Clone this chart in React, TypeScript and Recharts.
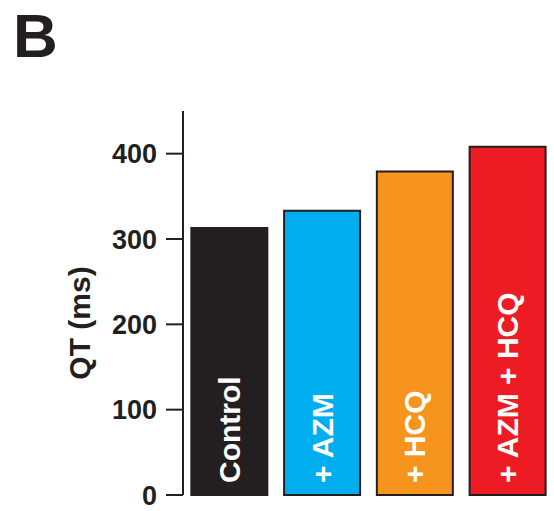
import React from 'react';
import { BarChart, Bar, XAxis, YAxis, Cell, LabelList, Label } from 'recharts';

// QT interval per treatment group
const groups = ['Control', '+ AZM', '+ HCQ', '+ AZM + HCQ'];
const qtValues = [313, 333, 379, 408];
const barColors = ['#231f20', '#00aeef', '#f7941d', '#ed1c24'];
const yTicks = [0, 100, 200, 300, 400];

const data = groups.map((name, i) => ({ name, qt: qtValues[i] }));

const INK = '#231f20';
const FONT = '"Liberation Sans", Arial, Helvetica, sans-serif';

// Group name written upward from the bottom of each bar
const BarName = (props: any) => {
  const { x, y, width, height, value } = props;
  const cx = x + width / 2;
  const by = y + height - 12;
  return (
    <text
      x={cx}
      y={by}
      transform={`rotate(-90, ${cx}, ${by})`}
      textAnchor="start"
      dominantBaseline="central"
      fill="#ffffff"
      fontFamily={FONT}
      fontWeight="bold"
      fontSize={30}
    >
      {value}
    </text>
  );
};

const AxisTitle = (props: any) => {
  const { viewBox } = props;
  const cx = viewBox.x + 79;
  const cy = 323;
  return (
    <text
      x={cx}
      y={cy}
      transform={`rotate(-90, ${cx}, ${cy})`}
      textAnchor="middle"
      dominantBaseline="central"
      fill={INK}
      fontFamily={FONT}
      fontWeight="bold"
      fontSize={30}
    >
      QT (ms)
    </text>
  );
};

export default function App() {
  return (
    <div style={{ position: 'absolute', left: 0, top: 0, width: 554, height: 511, background: '#fff' }}>
      <div
        style={{
          position: 'absolute',
          left: 13,
          top: 1,
          fontFamily: FONT,
          fontWeight: 'bold',
          fontSize: 62,
          color: INK,
          lineHeight: '70px',
        }}
      >
        B
      </div>
      <BarChart
        width={554}
        height={511}
        data={data}
        margin={{ top: 111, right: 0, left: 0, bottom: 16 }}
        barCategoryGap="9%"
      >
        <XAxis
          dataKey="name"
          height={0}
          tick={false}
          tickLine={false}
          axisLine={{ stroke: INK, strokeWidth: 2 }}
        />
        <YAxis
          width={183}
          domain={[0, 450]}
          ticks={yTicks}
          interval={0}
          tickSize={17}
          tickMargin={9}
          axisLine={{ stroke: INK, strokeWidth: 2 }}
          tickLine={{ stroke: INK, strokeWidth: 2 }}
          tick={{ fill: INK, fontFamily: FONT, fontWeight: 'bold', fontSize: 27 }}
        >
          <Label content={<AxisTitle />} />
        </YAxis>
        <Bar dataKey="qt" stroke={INK} strokeWidth={2} isAnimationActive={false}>
          {data.map((d, i) => (
            <Cell key={d.name} fill={barColors[i]} />
          ))}
          <LabelList dataKey="name" content={<BarName />} />
        </Bar>
      </BarChart>
    </div>
  );
}
